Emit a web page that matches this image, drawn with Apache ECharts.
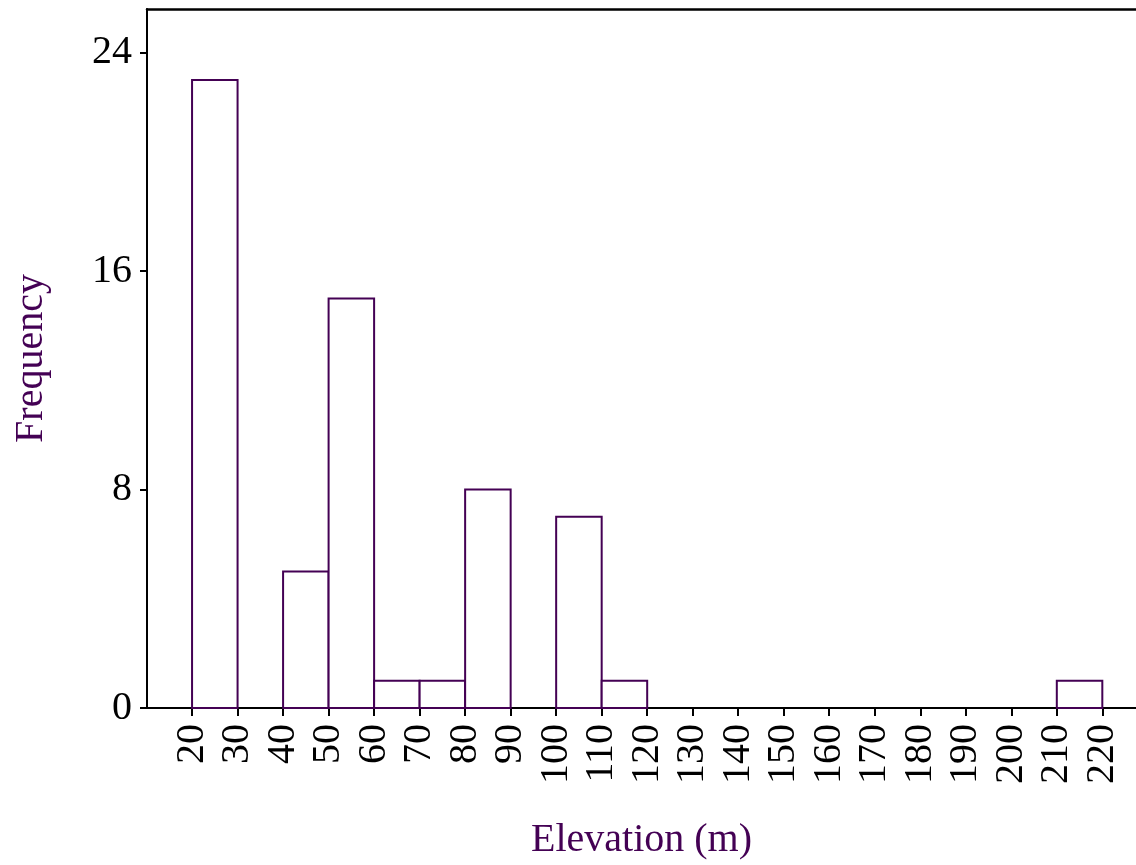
<!DOCTYPE html>
<html>
<head>
<meta charset="utf-8">
<script src="https://cdn.jsdelivr.net/npm/echarts@6/dist/echarts.min.js"></script>
<style>html,body{margin:0;padding:0;background:#fff}#c{width:1136px;height:865px}</style>
</head>
<body>
<div id="c"></div>
<script>
const binStarts = [20, 30, 40, 50, 60, 70, 80, 90, 100, 110, 120, 130, 140, 150, 160, 170, 180, 190, 200, 210];
const binEnds   = [30, 40, 50, 60, 70, 80, 90, 100, 110, 120, 130, 140, 150, 160, 170, 180, 190, 200, 210, 220];
const counts    = [23, 0, 5, 15, 1, 1, 8, 0, 7, 1, 0, 0, 0, 0, 0, 0, 0, 0, 0, 1];
const xTicks = [20, 30, 40, 50, 60, 70, 80, 90, 100, 110, 120, 130, 140, 150, 160, 170, 180, 190, 200, 210, 220];
const yTicks = [0, 8, 16, 24];

const FONT = "'Liberation Serif','Times New Roman',serif";
const PURPLE = '#440154';

const data = [];
for (let i = 0; i < binStarts.length; i++) {
  if (counts[i] > 0) data.push([binStarts[i], binEnds[i], counts[i]]);
}

const chart = echarts.init(document.getElementById('c'));
chart.setOption({
  animation: false,
  backgroundColor: '#fff',
  grid: { left: 147, top: 9, right: 0, bottom: 157, outerBoundsMode: 'none', containLabel: false },
  xAxis: [{
    type: 'value', min: 10.1, max: 227.4,
    name: 'Elevation (m)', nameLocation: 'middle', nameGap: 112,
    nameTextStyle: { fontFamily: FONT, fontSize: 40, color: PURPLE },
    splitLine: { show: false },
    axisLine: { show: true, onZero: false, lineStyle: { color: '#000', width: 2 } },
    axisTick: { show: true, length: 8, lineStyle: { color: '#000', width: 2 }, customValues: xTicks },
    axisLabel: { rotate: 90, margin: 16, fontFamily: FONT, fontSize: 40, color: '#000', customValues: xTicks,
      showMinLabel: true, showMaxLabel: true }
  }, {
    type: 'value', min: 10.1, max: 227.4, position: 'top',
    splitLine: { show: false },
    axisLine: { show: true, onZero: false, lineStyle: { color: '#000', width: 2.5 } },
    axisTick: { show: false }, axisLabel: { show: false }
  }],
  yAxis: {
    type: 'value', min: 0, max: 25.6,
    name: 'Frequency', nameLocation: 'middle', nameGap: 96,
    nameTextStyle: { fontFamily: FONT, fontSize: 40, color: PURPLE },
    splitLine: { show: false },
    axisLine: { show: true, onZero: false, lineStyle: { color: '#000', width: 2 } },
    axisTick: { show: true, length: 7, lineStyle: { color: '#000', width: 2 }, customValues: yTicks },
    axisLabel: { margin: 15, fontFamily: FONT, fontSize: 40, color: '#000', customValues: yTicks }
  },
  series: [{
    type: 'custom',
    xAxisIndex: 0,
    data: data,
    encode: { x: [0, 1], y: 2 },
    renderItem: function (params, api) {
      const p0 = api.coord([api.value(0), 0]);
      const p1 = api.coord([api.value(1), api.value(2)]);
      return {
        type: 'rect',
        shape: { x: p0[0], y: p1[1], width: p1[0] - p0[0], height: p0[1] - p1[1] },
        style: { fill: '#fff', stroke: PURPLE, lineWidth: 2 }
      };
    }
  }]
});
</script>
</body>
</html>
